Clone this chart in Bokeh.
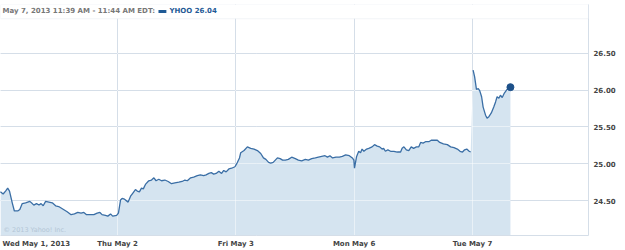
from bokeh.plotting import figure
from bokeh.models import (Range1d, LinearAxis, FixedTicker, NumeralTickFormatter,
                          Grid, BoxAnnotation, Label, ColumnDataSource)
from bokeh.embed import file_html
from bokeh.resources import INLINE

# ---------------- data ----------------
day_labels = ["Wed May 1, 2013", "Thu May 2", "Fri May 3", "Mon May 6", "Tue May 7"]
session_minutes = 390  # 9:30 - 16:00

wed_min = [4, 13, 21, 28, 34, 43, 50, 61, 68, 76, 87, 101, 109, 114, 123, 131, 138, 145, 153, 164,
           175, 186, 196, 208, 224, 237, 248, 259, 270, 279, 288, 301, 312, 323, 332, 339, 350, 358,
           367, 374, 387]
wed_px = [24.62, 24.59, 24.63, 24.67, 24.63, 24.47, 24.36, 24.36, 24.38, 24.46, 24.47, 24.49, 24.46,
          24.44, 24.46, 24.44, 24.46, 24.43, 24.49, 24.48, 24.47, 24.43, 24.42, 24.39, 24.35, 24.31,
          24.32, 24.34, 24.33, 24.34, 24.31, 24.31, 24.31, 24.33, 24.34, 24.31, 24.30, 24.29, 24.32,
          24.29, 24.30]

thu_min = [3, 10, 15, 23, 35, 43, 50, 59, 65, 72, 79, 85, 92, 103, 112, 120, 127, 136, 145, 156,
           167, 178, 189, 202, 213, 222, 230, 241, 251, 263, 273, 284, 292, 301, 309, 317, 325, 334,
           343, 350, 358, 367, 376, 387]
thu_px = [24.33, 24.51, 24.53, 24.52, 24.48, 24.56, 24.60, 24.65, 24.63, 24.62, 24.67, 24.66, 24.72,
          24.77, 24.78, 24.81, 24.77, 24.79, 24.77, 24.78, 24.76, 24.73, 24.74, 24.75, 24.76, 24.78,
          24.77, 24.81, 24.82, 24.84, 24.85, 24.84, 24.85, 24.87, 24.88, 24.86, 24.87, 24.90, 24.87,
          24.91, 24.89, 24.93, 24.94, 24.96]

fri_min = [4, 12, 16, 27, 38, 49, 60, 71, 82, 91, 99, 108, 115, 123, 130, 137, 146, 154, 163, 173,
           184, 196, 206, 217, 229, 239, 250, 262, 272, 283, 294, 302, 310, 319, 330, 341, 351, 362,
           374, 384, 389]
fri_px = [25.01, 25.08, 25.15, 25.18, 25.23, 25.21, 25.20, 25.18, 25.14, 25.08, 25.06, 25.02, 25.01,
          25.02, 25.05, 25.08, 25.07, 25.05, 25.05, 25.06, 25.09, 25.07, 25.05, 25.04, 25.06, 25.05,
          25.07, 25.08, 25.09, 25.10, 25.11, 25.09, 25.11, 25.08, 25.09, 25.09, 25.10, 25.12, 25.11,
          25.08, 25.05]

mon_min = [1, 8, 15, 21, 26, 32, 41, 48, 59, 67, 76, 84, 92, 97, 103, 111, 120, 131, 142, 153,
           158, 164, 172, 180, 188, 196, 205, 213, 219, 227, 235, 246, 254, 265, 274, 282, 294, 307,
           318, 329, 340, 349, 357, 364, 371, 379, 384]
mon_px = [24.94, 25.10, 25.17, 25.15, 25.20, 25.17, 25.20, 25.21, 25.23, 25.26, 25.24, 25.23, 25.20,
          25.21, 25.17, 25.19, 25.17, 25.17, 25.16, 25.16, 25.21, 25.23, 25.19, 25.18, 25.23, 25.21,
          25.23, 25.23, 25.29, 25.28, 25.30, 25.30, 25.32, 25.32, 25.32, 25.29, 25.27, 25.26, 25.23,
          25.22, 25.20, 25.17, 25.16, 25.19, 25.20, 25.17, 25.16]

tue_min = [2, 7, 13, 19, 24, 30, 35, 43, 48, 54, 62, 70, 76, 81, 87, 92, 98, 105, 114, 120, 125]
tue_px = [26.27, 26.18, 26.01, 26.02, 25.99, 25.91, 25.77, 25.66, 25.62, 25.64, 25.69, 25.77, 25.84,
          25.91, 25.89, 25.93, 25.90, 25.96, 26.01, 26.03, 26.04]

price_ticks = [24.50, 25.00, 25.50, 26.00, 26.50]
header_text = "May 7, 2013 11:39 AM - 11:44 AM EDT:"
symbol = "YHOO"
copyright_text = "\u00a9 2013 Yahoo! Inc."

# ---------------- build ----------------
minutes = [wed_min, thu_min, fri_min, mon_min, tue_min]
prices = [wed_px, thu_px, fri_px, mon_px, tue_px]
xs = [[d * session_minutes + m for m in mins] for d, mins in enumerate(minutes)]

x_prev = sum(xs[:4], [])
p_prev = sum(prices[:4], [])
x_all = x_prev + xs[4]
p_all = p_prev + prices[4]

y_lo, y_hi = 24.027, 27.162
header_bottom = 26.969

GRID = "#d5dee8"
LINE = "#3a6ea5"
FILL = "#d5e4f0"
FONT = "DejaVu Sans"

p = figure(width=625, height=250, output_backend="svg", toolbar_location=None,
           x_range=Range1d(4.3, 1942.3), y_range=Range1d(y_lo, y_hi),
           x_axis_type=None, y_axis_type=None,
           min_border_left=0, min_border_right=37, min_border_top=4, min_border_bottom=14,
           background_fill_color="white", border_fill_color="white")
p.outline_line_color = None

day_starts = [d * session_minutes for d in range(1, 5)]

# grids under the fill (visible on white)
p.add_layout(Grid(dimension=0, ticker=FixedTicker(ticks=day_starts), grid_line_color="#b0c1d4",
                  level="image"), "center")
p.add_layout(Grid(dimension=1, ticker=FixedTicker(ticks=price_ticks), grid_line_color="#b0c1d4",
                  level="image"), "center")

src = ColumnDataSource(dict(x=x_all, y=p_all))
p.varea(x="x", y1=y_lo, y2="y", source=src, fill_color=FILL, level="underlay")

# light grids drawn over the fill
p.add_layout(Grid(dimension=0, ticker=FixedTicker(ticks=day_starts), grid_line_color="white",
                  grid_line_alpha=0.47, level="glyph"), "center")
p.add_layout(Grid(dimension=1, ticker=FixedTicker(ticks=price_ticks), grid_line_color="white",
                  grid_line_alpha=0.47, level="glyph"), "center")

r1 = p.line(x_prev, p_prev, line_color=LINE, line_width=1.3)
r2 = p.line(xs[4], prices[4], line_color=LINE, line_width=1.3)
r1.level = "guide"
r2.level = "guide"
r3 = p.scatter([xs[4][-1]], [prices[4][-1]], size=7, fill_color="#1d5089", line_color="#1d5089")
r3.level = "guide"

# axes
xaxis = LinearAxis(ticker=FixedTicker(ticks=[122] + day_starts),
                   major_label_overrides={122: day_labels[0], **{s: l for s, l in zip(day_starts, day_labels[1:])}})
xaxis.axis_line_color = GRID
xaxis.major_tick_line_color = None
xaxis.minor_tick_line_color = None
xaxis.major_tick_out = 0
xaxis.major_tick_in = 0
xaxis.major_label_standoff = 4
xaxis.major_label_text_font = FONT
xaxis.major_label_text_font_size = "7px"
xaxis.major_label_text_font_style = "bold"
xaxis.major_label_text_color = "#444444"
p.add_layout(xaxis, "below")

yaxis = LinearAxis(ticker=FixedTicker(ticks=price_ticks), formatter=NumeralTickFormatter(format="0.00"))
yaxis.axis_line_color = GRID
yaxis.major_tick_line_color = None
yaxis.minor_tick_line_color = None
yaxis.major_tick_out = 0
yaxis.major_tick_in = 0
yaxis.major_label_standoff = 5
yaxis.major_label_text_font = FONT
yaxis.major_label_text_font_size = "7px"
yaxis.major_label_text_font_style = "bold"
yaxis.major_label_text_color = "#444444"
p.add_layout(yaxis, "right")

# header band
p.add_layout(BoxAnnotation(bottom=header_bottom, fill_color="white", fill_alpha=1.0,
                           line_color=GRID, line_width=1))
header_y = 27.068
p.add_layout(Label(x=10.9, y=header_y, text=header_text, text_font=FONT, text_font_size="7px",
                   text_font_style="bold", text_color="#777777", text_baseline="middle"))
p.add_layout(BoxAnnotation(left=525, right=551, top=27.088, bottom=27.047,
                           fill_color="#1f5a96", fill_alpha=1.0, line_color=None))
p.add_layout(Label(x=561, y=header_y, text=f"{symbol} {tue_px[-1]:.2f}", text_font=FONT,
                   text_font_size="7px", text_font_style="bold", text_color="#1f5a96",
                   text_baseline="middle"))

# copyright
p.add_layout(Label(x=14, y=24.095, text=copyright_text, text_font=FONT, text_font_size="6.5px",
                   text_color="#b4c6d6", text_baseline="middle"))

open("out.html", "w").write(file_html(p, INLINE))
